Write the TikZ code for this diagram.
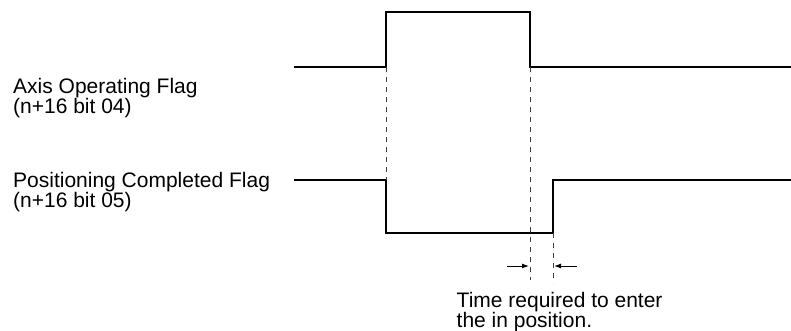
\documentclass[tikz,border=0pt]{standalone}
\usepackage{fontspec}
\setmainfont{Liberation Sans}
\usetikzlibrary{arrows.meta}
\newcommand\mylblfont{\fontsize{21}{20}\selectfont\lineskiplimit=-20pt\relax}
\tikzset{
  wave/.style={line width=1.9pt, line join=miter, line cap=butt},
  guide/.style={line width=0.8pt, dash pattern=on 5pt off 5pt, black!75},
  dimarrow/.style={line width=1pt, -{Latex[length=7pt,width=5pt]}},
  lbl/.style={anchor=north west, inner sep=0pt, align=left, font=\mylblfont}
}
\begin{document}
\begin{tikzpicture}[x=1pt,y=-1pt]
\useasboundingbox (0,0) rectangle (791,330);
% key points
\coordinate (a0) at (294,67);
\coordinate (a1) at (386,67);
\coordinate (a2) at (386,12);
\coordinate (a3) at (530,12);
\coordinate (a4) at (530,67);
\coordinate (a5) at (791,67);
\coordinate (b0) at (294,180);
\coordinate (b1) at (386,180);
\coordinate (b2) at (386,233);
\coordinate (b3) at (553,233);
\coordinate (b4) at (553,180);
\coordinate (b5) at (791,180);
\coordinate (g1) at (530,280);
\coordinate (g2) at (553,283);
\coordinate (l1) at (507,266);
\coordinate (r1) at (529,266);
\coordinate (l2) at (577,266);
\coordinate (r2) at (554,266);
% waveforms
\draw[wave] (a0) -- (a1) -- (a2) -- (a3) -- (a4) -- (a5);
\draw[wave] (b0) -- (b1) -- (b2) -- (b3) -- (b4) -- (b5);
% guides
\draw[guide] (a1) -- (b1);
\draw[guide] (a4) -- (g1);
\draw[guide] (b3) -- (g2);
% time arrows
\draw[dimarrow] (l1) -- (r1);
\draw[dimarrow] (l2) -- (r2);
% labels
\node[lbl] (axis) at (13,77.7) {Axis Operating Flag\\(n+16 bit 04)};
\node[lbl] (pos) at (13,172.3) {Positioning Completed Flag\\(n+16 bit 05)};
\node[lbl] (time) at (456.5,291.7) {Time required to enter\\the in position.};
\end{tikzpicture}
\end{document}
